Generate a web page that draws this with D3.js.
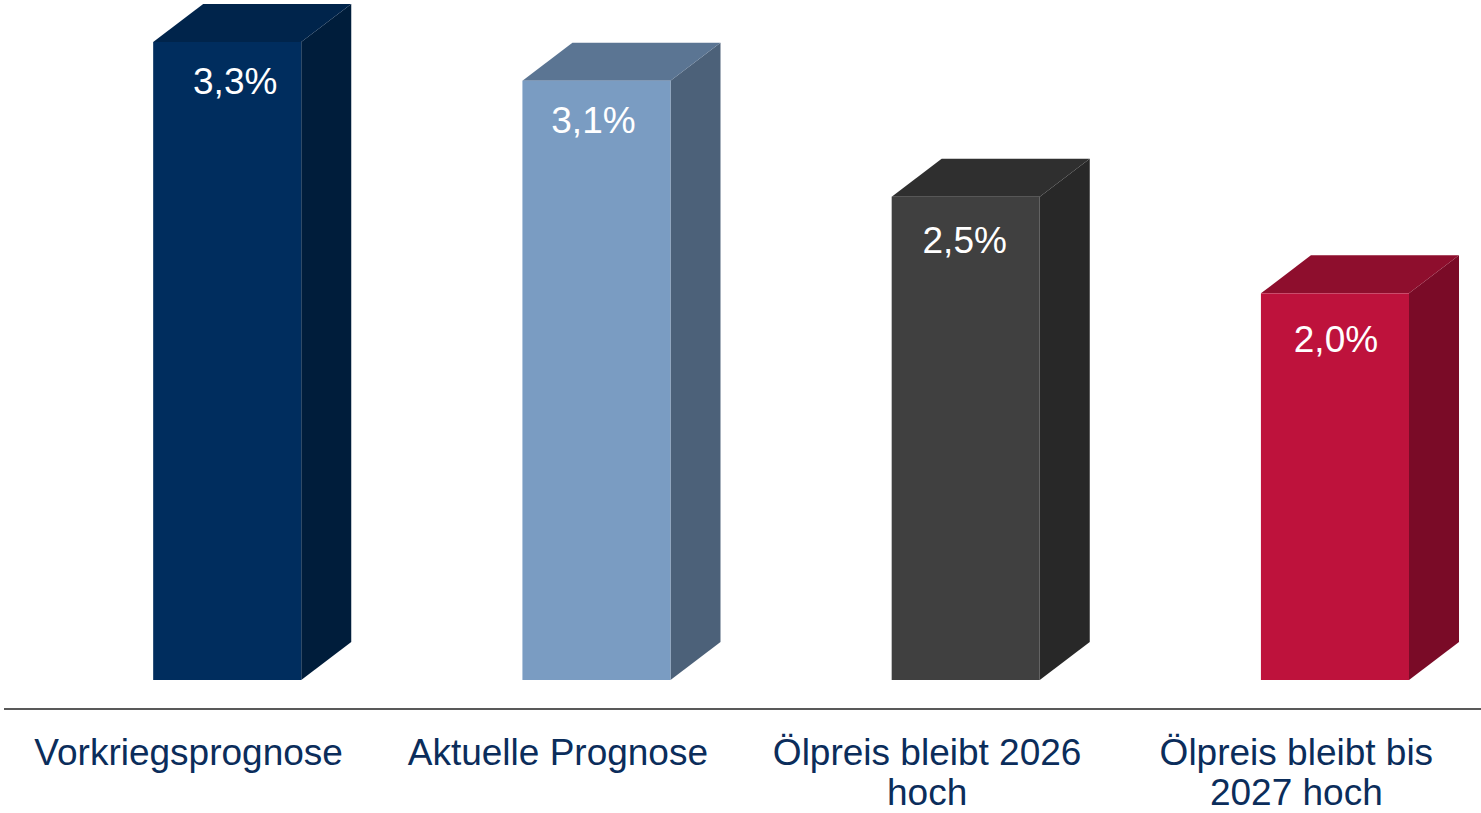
<!DOCTYPE html>
<html><head><meta charset="utf-8">
<script src="https://cdn.jsdelivr.net/npm/d3@7"></script>
<style>html,body{margin:0;padding:0;background:#fff;}svg{display:block;}</style>
</head><body>
<svg id="c" width="1481" height="813"></svg>
<script>
const categories = ["Vorkriegsprognose", "Aktuelle Prognose", "Ölpreis bleibt 2026 hoch", "Ölpreis bleibt bis 2027 hoch"];
const labelLines = [["Vorkriegsprognose"], ["Aktuelle Prognose"], ["Ölpreis bleibt 2026", "hoch"], ["Ölpreis bleibt bis", "2027 hoch"]];
const values = [3.3, 3.1, 2.5, 2.0];
const valueLabels = ["3,3%", "3,1%", "2,5%", "2,0%"];
const frontColors = ["#002D5E", "#7A9CC2", "#404040", "#BE123C"];
const topColors = ["#00244B", "#5B7593", "#2F2F2F", "#8E0E2D"];
const sideColors = ["#001D3B", "#4C6179", "#282828", "#7A0B27"];

// layout nudges for value labels (as placed in the original)
const labelNudgeX = [8, -3, -1, 1];
const labelNudgeY = [52, 52, 56, 59];

const svg = d3.select("#c");
const W = 1481;
const x = d3.scaleBand().domain(categories).range([4, W]).padding(0);
const y = d3.scaleLinear().domain([0, 3.3]).range([680, 42]);
const bw = x.bandwidth();
const off = bw * 0.404, fw = bw * 0.401;
const dx = 50, dy = 38;

const g = svg.append("g");
categories.forEach((c, i) => {
  const x0 = x(c) + off, x1 = x0 + fw;
  const yt = y(values[i]), yb = y(0);
  g.append("path").attr("fill", sideColors[i])
    .attr("d", `M${x1},${yt}L${x1+dx},${yt-dy}L${x1+dx},${yb-dy}L${x1},${yb}Z`);
  g.append("path").attr("fill", topColors[i])
    .attr("d", `M${x0},${yt}L${x0+dx},${yt-dy}L${x1+dx},${yt-dy}L${x1},${yt}Z`);
  g.append("rect").attr("x", x0).attr("y", yt).attr("width", fw).attr("height", yb - yt)
    .attr("fill", frontColors[i]);
  g.append("text").attr("x", x0 + fw / 2 + labelNudgeX[i]).attr("y", yt + labelNudgeY[i])
    .attr("text-anchor", "middle").attr("fill", "#fff")
    .attr("font-family", "Liberation Sans, Arial, sans-serif").attr("font-size", 37)
    .text(valueLabels[i]);
});

svg.append("line").attr("x1", 4).attr("x2", W).attr("y1", 709).attr("y2", 709)
  .attr("stroke", "#595959").attr("stroke-width", 2);

categories.forEach((c, i) => {
  const t = svg.append("text").attr("text-anchor", "middle").attr("fill", "#0B2D5B")
    .attr("font-family", "Liberation Sans, Arial, sans-serif").attr("font-size", 37);
  labelLines[i].forEach((ln, j) => {
    t.append("tspan").attr("x", x(c) + bw / 2).attr("y", 765 + j * 40).text(ln);
  });
});
</script>
</body></html>
